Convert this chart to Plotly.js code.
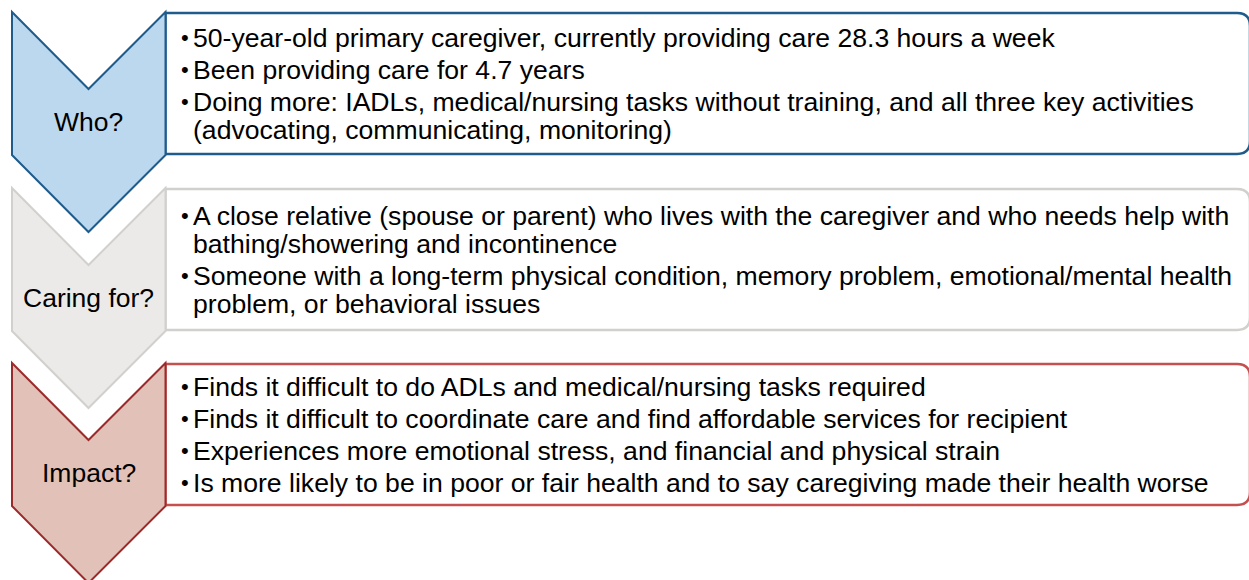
<!DOCTYPE html>
<html>
<head>
<meta charset="utf-8">
<script src="https://cdn.plot.ly/plotly-3.0.1.min.js"></script>
<style>
  html, body { margin: 0; padding: 0; background: #ffffff; }
  #chart { width: 1249px; height: 580px; }
</style>
</head>
<body>
<div id="chart"></div>
<script>
// ---- content ----
const stageLabels = ["Who?", "Caring for?", "Impact?"];

// each bullet is a list of its wrapped lines
const whoBullets = [
  ["50-year-old primary caregiver, currently providing care 28.3 hours a week"],
  ["Been providing care for 4.7 years"],
  ["Doing more: IADLs, medical/nursing tasks without training, and all three key activities",
   "(advocating, communicating, monitoring)"]
];
const caringBullets = [
  ["A close relative (spouse or parent) who lives with the caregiver and who needs help with",
   "bathing/showering and incontinence"],
  ["Someone with a long-term physical condition, memory problem, emotional/mental health",
   "problem, or behavioral issues"]
];
const impactBullets = [
  ["Finds it difficult to do ADLs and medical/nursing tasks required"],
  ["Finds it difficult to coordinate care and find affordable services for recipient"],
  ["Experiences more emotional stress, and financial and physical strain"],
  ["Is more likely to be in poor or fair health and to say caregiving made their health worse"]
];

const stageBullets = [whoBullets, caringBullets, impactBullets];

// ---- styles ----
const chevronFill   = ["#BCD8EE", "#EBEAE9", "#E2C2B8"];
const chevronLine   = ["#1F5C8C", "#D2D0CD", "#9B2B2B"];
const boxLine       = ["#1F5C8C", "#D2D0CD", "#C4504F"];
const FONT = "Arial, 'Liberation Sans', sans-serif";

// ---- layout geometry ----
const W = 1249, H = 580;
const rowTops = [12, 188, 363];
const chevL = 12, chevM = 88.5, chevR = 165.5;
const notch = 77, side = 143, tip = 220;
const boxR = 1250, radius = 13;
const bulletX = 181, textX = 193;
const bulletGap = 32, wrapGap = 28;

const shapes = [];
const annotations = [];

rowTops.forEach((t, i) => {
  // text box (rounded on the right)
  const bt = t + 1, bb = t + side - 1;
  shapes.push({
    type: "path", xref: "x", yref: "y", layer: "above",
    path: `M ${chevR} ${bt} L ${boxR - radius} ${bt} Q ${boxR} ${bt} ${boxR} ${bt + radius} ` +
          `L ${boxR} ${bb - radius} Q ${boxR} ${bb} ${boxR - radius} ${bb} L ${chevR} ${bb} Z`,
    fillcolor: "#FFFFFF",
    line: { color: boxLine[i], width: 2.5 }
  });
  // chevron
  shapes.push({
    type: "path", xref: "x", yref: "y", layer: "above",
    path: `M ${chevL} ${t} L ${chevM} ${t + notch} L ${chevR} ${t} L ${chevR} ${t + side} ` +
          `L ${chevM} ${t + tip} L ${chevL} ${t + side} Z`,
    fillcolor: chevronFill[i],
    line: { color: chevronLine[i], width: 2 }
  });
  // label
  annotations.push({
    x: chevM, y: t + (notch + side) / 2, xref: "x", yref: "y",
    text: stageLabels[i], showarrow: false, xanchor: "center", yanchor: "middle",
    borderpad: 0, borderwidth: 0,
    font: { family: FONT, size: 26.5, color: "#000000" }
  });
  // bullet lines
  const bullets = stageBullets[i];
  const ys = [];
  let y = 0;
  bullets.forEach((b, bi) => {
    b.forEach((line, li) => {
      if (bi > 0 || li > 0) y += (li === 0 ? bulletGap : wrapGap);
      ys.push({ y, line, first: li === 0 });
    });
  });
  const center = t + side / 2;
  const offset = center - y / 2;
  ys.forEach(o => {
    if (o.first) {
      annotations.push({
        x: bulletX, y: o.y + offset, xref: "x", yref: "y",
        text: "•", showarrow: false, xanchor: "left", yanchor: "middle",
        borderpad: 0, borderwidth: 0,
        font: { family: FONT, size: 22, color: "#000000" }
      });
    }
    annotations.push({
      x: textX, y: o.y + offset, xref: "x", yref: "y",
      text: o.line, showarrow: false, xanchor: "left", yanchor: "middle",
      borderpad: 0, borderwidth: 0,
      font: { family: FONT, size: 26.6, color: "#000000" }
    });
  });
});

const layout = {
  width: W, height: H,
  margin: { l: 0, r: 0, t: 0, b: 0 },
  paper_bgcolor: "#FFFFFF", plot_bgcolor: "#FFFFFF",
  xaxis: { range: [0, W], visible: false, fixedrange: true },
  yaxis: { range: [H, 0], visible: false, fixedrange: true },
  showlegend: false,
  shapes, annotations
};

Plotly.newPlot("chart", [{ x: [], y: [], type: "scatter", mode: "markers", hoverinfo: "skip" }],
  layout, { staticPlot: true, displayModeBar: false });
</script>
</body>
</html>
